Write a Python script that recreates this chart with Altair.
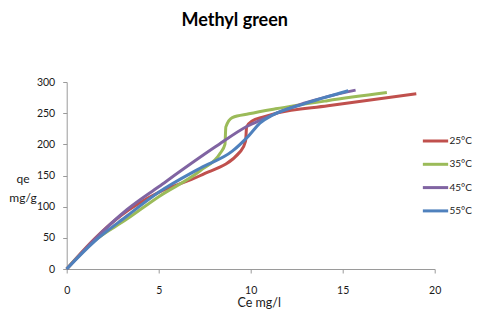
import altair as alt
import pandas as pd

series = ["25°C", "35°C", "45°C", "55°C"]
colors = ["#C0504D", "#9BBB59", "#8064A2", "#4F81BD"]

ce_25 = [0, 1.5, 3.0, 5.0, 7.27, 9.45, 9.72, 9.78, 10.1, 10.6, 11.4, 14.2, 19.0]
qe_25 = [0, 48, 87, 123, 150, 189, 205, 228, 238, 243, 250, 262, 281]

ce_35 = [0, 1.5, 3.27, 5.0, 7.27, 8.35, 8.6, 8.65, 9.0, 9.9, 11.35, 14.17, 17.4]
qe_35 = [0, 45, 80, 116, 158, 186, 200, 228, 243, 249, 257, 270, 283]

ce_45 = [0, 1.5, 3.27, 5.0, 8.08, 9.81, 10.53, 12.9, 15.7]
qe_45 = [0, 47, 95, 132, 196, 229, 239, 266, 287]

ce_55 = [0, 1.5, 3.27, 5.0, 7.27, 9.0, 9.9, 10.5, 11.2, 12.9, 15.3]
qe_55 = [0, 44, 85, 123, 162, 189, 214, 234, 247, 265, 286]

x_ticks = [0, 5, 10, 15, 20]
y_ticks = [0, 50, 100, 150, 200, 250, 300]

rows = []
for name, xs, ys in zip(series, [ce_25, ce_35, ce_45, ce_55], [qe_25, qe_35, qe_45, qe_55]):
    for i, (cx, qy) in enumerate(zip(xs, ys)):
        rows.append({"series": name, "ce": cx, "qe": qy, "idx": i})
df = pd.DataFrame(rows)

FONT = "Lato"
AXIS_COLOR = "#9A9A9A"
TEXT_COLOR = "#1a1a1a"

chart = alt.Chart(df).mark_line(interpolate="monotone", strokeWidth=3).encode(
    x=alt.X("ce:Q",
            scale=alt.Scale(domain=[0, 20], nice=False, zero=True),
            axis=alt.Axis(values=x_ticks, title="Ce mg/l", grid=False,
                          domainColor=AXIS_COLOR, tickColor=AXIS_COLOR, tickSize=4,
                          labelFont=FONT, labelFontSize=10.5, labelColor=TEXT_COLOR,
                          labelPadding=12, labelFlush=False,
                          titleFont=FONT, titleFontSize=12.5, titleFontWeight="normal",
                          titleColor=TEXT_COLOR, titleX=192, titleY=37.5,
                          titleBaseline="alphabetic", titleAlign="center")),
    y=alt.Y("qe:Q",
            scale=alt.Scale(domain=[0, 300], nice=False),
            axis=alt.Axis(values=y_ticks, title=["qe", "mg/g"], grid=False,
                          domainColor=AXIS_COLOR, tickColor=AXIS_COLOR, tickSize=4,
                          labelFont=FONT, labelFontSize=10.5, labelColor=TEXT_COLOR,
                          labelPadding=8, labelFlush=False,
                          titleFont=FONT, titleFontSize=12, titleFontWeight="normal",
                          titleColor=TEXT_COLOR, titleAngle=0, titleX=-44.2, titleY=96.5,
                          titleBaseline="middle", titleAlign="center", titleLineHeight=19)),
    color=alt.Color("series:N",
                    scale=alt.Scale(domain=series, range=colors),
                    legend=alt.Legend(title=None, orient="none", legendX=355.8, legendY=46,
                                      symbolType="M-1.1,0H1.1", symbolSize=529,
                                      symbolStrokeWidth=3, labelFont=FONT, labelFontSize=10,
                                      labelColor=TEXT_COLOR, labelOffset=1, rowPadding=4.3,
                                      padding=0)),
    order="idx:Q",
).properties(
    width=368,
    height=187,
    title=alt.TitleParams("Methyl green", font=FONT, fontSize=18, fontWeight="bold",
                          color="#000000", anchor="middle", frame="group",
                          offset=47, dx=-16),
    padding={"left": 58.7, "top": 74, "right": 37.3, "bottom": 42},
    autosize=alt.AutoSizeParams(type="none"),
).configure_view(stroke=None)

chart.save("out.html", embed_options={"renderer": "svg", "actions": False})
